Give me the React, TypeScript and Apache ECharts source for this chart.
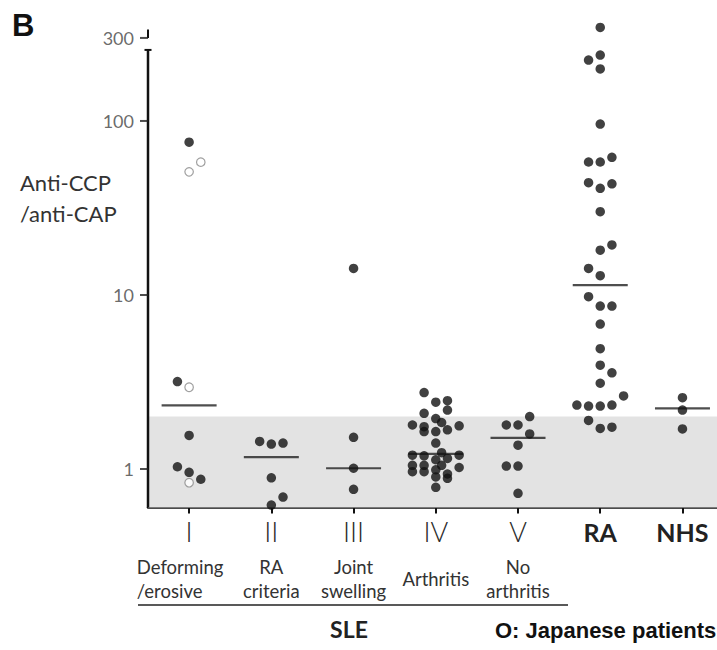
import React, { useEffect, useRef } from "react";
import * as echarts from "echarts";

// ---- data ----
const categories = ["I", "II", "III", "IV", "V", "RA", "NHS"];
const boldCategories = ["RA", "NHS"];
const subLabels = [
  ["Deforming", "/erosive"],
  ["RA", "criteria"],
  ["Joint", "swelling"],
  ["Arthritis"],
  ["No", "arthritis"],
  [],
  [],
];
// each point: [column offset within group, value]
const groupIFilled = [[0, 75.5], [-1, 3.18], [0, 1.56], [-1, 1.03], [0, 0.957], [1, 0.873]];
const groupIOpen = [[0, 51], [1, 58], [0, 2.95], [0, 0.834]];
const groupII = [[-1, 1.44], [0, 1.39], [1, 1.41], [0, 0.89], [1, 0.69], [0, 0.62]];
const groupIII = [[0, 14.2], [0, 1.52], [0, 1.01], [0, 0.764]];
const groupIV = [
  [-1, 2.75], [0, 2.42], [1, 2.47], [1, 2.18], [-1, 2.09], [0, 1.95], [0.5, 1.85], [-2, 1.79],
  [-1, 1.75], [-1, 1.64], [0, 1.64], [1, 1.68], [2, 1.77], [0, 1.41], [-2, 1.2], [-1, 1.19],
  [0.5, 1.24], [1, 1.15], [2, 1.2], [0, 1.13], [-2, 1.05], [-1, 1.05], [0.5, 1.05], [-2, 0.965],
  [-1, 0.965], [0, 0.99], [2, 1.02], [1, 0.936], [1, 0.884], [0, 0.9], [0, 0.785],
];
const groupV = [[-1, 1.79], [0, 1.79], [1, 2.0], [1, 1.59], [0, 1.37], [-1, 1.04], [0, 1.04], [0, 0.725]];
const groupRA = [
  [0, 345], [-1, 224], [0, 239], [0, 199], [0, 96], [-1, 58.1], [0, 58.1], [1, 61.8],
  [-1, 44.2], [0, 41.0], [1, 43.5], [0, 30.1], [1, 19.4], [0, 18.1], [-1, 14.2], [0, 12.9],
  [-1, 9.78], [0, 8.64], [1, 8.64], [0, 6.81], [0, 4.91], [0, 3.95], [1, 3.57], [0, 3.11],
  [2, 2.63], [-2, 2.33], [-1, 2.3], [0, 2.3], [1, 2.33], [-1, 1.9], [0, 1.71], [1, 1.74],
];
const groupNHS = [[0, 2.57], [0, 2.18], [0, 1.7]];
const groupMeans = [2.32, 1.17, 1.01, 1.22, 1.51, 11.4, 2.23];
const yTickValues = [1, 10, 100, 300];
const normalCutoff = 2.0;
const yMin = 0.6;
const yMax = 400;
const axisBreakTop = 256;
const axisStub = [300, 335];

const xMin = -0.5;
const xMax = 6.42;
const COL = 0.142;

export default function App() {
  const ref = useRef<HTMLDivElement>(null);
  useEffect(() => {
    if (!ref.current) return;
    const chart = echarts.init(ref.current, undefined, { renderer: "svg" });
    const filledGroups = [groupIFilled, groupII, groupIII, groupIV, groupV, groupRA, groupNHS];
    const filledData = filledGroups.flatMap((g, gi) => g.map(([c, v]) => [gi + c * COL, v]));
    const openData = groupIOpen.map(([c, v]) => [0 + c * COL, v]);
    const meanData = groupMeans.map((m, i) => [i, m]);

    const labelFormatter = (val: number) => {
      const i = Math.round(val);
      const name = categories[i];
      const main = boldCategories.includes(name) ? `{b|${name}}` : `{m|${name}}`;
      const subs = subLabels[i] || [];
      if (subs.length === 0) return main;
      if (subs.length === 1) return `${main}\n{g| }\n{h| }\n{s|${subs[0]}}`;
      const key = i === 0 ? "sl" : "s";
      return `${main}\n{g| }\n{${key}|${subs[0]}}\n{${key}|${subs[1]}}`;
    };

    const font = "Lato, 'Open Sans', sans-serif";
    chart.setOption({
      animation: false,
      grid: { left: 148, right: 0, top: 16.2, bottom: 142.4, containLabel: false },
      xAxis: {
        type: "value",
        min: xMin,
        max: xMax,
        splitLine: { show: false },
        axisLine: { show: true, onZero: false, lineStyle: { color: "#111", width: 2.5 } },
        axisTick: {
          show: true,
          customValues: categories.map((_, i) => i),
          length: 6,
          lineStyle: { color: "#111", width: 2 },
        },
        axisLabel: {
          show: true,
          customValues: categories.map((_, i) => i),
          margin: 7,
          formatter: labelFormatter,
          rich: {
            m: { fontSize: 27, lineHeight: 34, color: "#2a2a2a", fontFamily: font, fontWeight: 300, align: "center" },
            b: { fontSize: 25, lineHeight: 34, color: "#222", fontFamily: font, fontWeight: "bold", align: "center" },
            s: { fontSize: 18.5, lineHeight: 24, color: "#333", fontFamily: font, align: "center" },
            sl: { fontSize: 18.5, lineHeight: 24, color: "#333", fontFamily: font, align: "left", padding: [0, 18, 0, 0] },
            g: { fontSize: 2, lineHeight: 6 },
            h: { fontSize: 2, lineHeight: 12 },
          },
        },
      },
      yAxis: {
        type: "log",
        logBase: 10,
        min: yMin,
        max: yMax,
        axisLine: { show: false },
        axisTick: { show: false },
        axisLabel: { show: false },
        splitLine: { show: false },
      },
      series: [
        {
          type: "line",
          z: 0,
          silent: true,
          data: [[xMin, yMin]],
          symbol: "none",
          lineStyle: { opacity: 0 },
          markArea: {
            silent: true,
            itemStyle: { color: "#e3e3e3" },
            data: [[{ coord: [xMin, yMin] }, { coord: [xMax, normalCutoff] }]],
          },
        },
        {
          type: "line",
          z: 3,
          silent: true,
          clip: false,
          symbol: "none",
          showSymbol: true,
          lineStyle: { color: "#111", width: 2.5 },
          data: [
            { value: [xMin, yMin], symbol: "none" },
            { value: [xMin, axisBreakTop], symbol: "rect", symbolSize: [7, 2], itemStyle: { color: "#111" } },
          ],
        },
        {
          type: "line",
          z: 3,
          silent: true,
          clip: false,
          symbol: "none",
          lineStyle: { color: "#111", width: 2 },
          data: axisStub.map((v) => [xMin, v]),
        },
        {
          type: "scatter",
          z: 3,
          silent: true,
          clip: false,
          symbol: "rect",
          symbolSize: [8, 2],
          symbolOffset: [-4, 0],
          itemStyle: { color: "#222" },
          label: {
            show: true,
            position: "left",
            distance: 6,
            formatter: (p: any) => String(p.value[1]),
            color: "#444",
            fontSize: 18,
            fontFamily: font,
          },
          data: yTickValues.map((v) => [xMin, v]),
        },
        {
          type: "scatter",
          z: 4,
          silent: true,
          symbol: "rect",
          symbolSize: [55, 2.2],
          itemStyle: { color: "#222" },
          data: meanData,
        },
        {
          type: "scatter",
          z: 5,
          silent: true,
          symbol: "circle",
          symbolSize: 9.5,
          itemStyle: { color: "#111" },
          data: filledData,
        },
        {
          type: "scatter",
          z: 6,
          silent: true,
          symbol: "circle",
          symbolSize: 8.5,
          itemStyle: { color: "#fff", borderColor: "#888", borderWidth: 1.2 },
          data: openData,
        },
      ],
      graphic: [
        {
          type: "text",
          left: 12,
          top: 10,
          style: { text: "B", font: "bold 31px 'Liberation Sans', Arial, sans-serif", fill: "#111" },
        },
        {
          type: "text",
          left: 20,
          top: 167,
          style: {
            text: "Anti-CCP\n/anti-CAP",
            fontSize: 22,
            lineHeight: 31,
            fontFamily: font,
            fill: "#333",
          },
        },
        {
          type: "line",
          shape: { x1: 138, y1: 605, x2: 568, y2: 605 },
          style: { stroke: "#222", lineWidth: 1.5 },
        },
        {
          type: "text",
          x: 349,
          y: 629,
          style: {
            text: "SLE",
            fontSize: 23,
            fontWeight: "bold",
            fontFamily: font,
            fill: "#222",
            align: "center",
            verticalAlign: "middle",
          },
        },
        {
          type: "text",
          x: 495,
          y: 630,
          style: {
            text: "O: Japanese patients",
            font: "bold 22px 'Liberation Sans', Arial, sans-serif",
            fill: "#111",
            align: "left",
            verticalAlign: "middle",
          },
        },
      ],
    });
    return () => chart.dispose();
  }, []);
  return (
    <div
      ref={ref}
      style={{ position: "fixed", left: 0, top: 0, width: 717, height: 650, background: "#fff" }}
    />
  );
}
